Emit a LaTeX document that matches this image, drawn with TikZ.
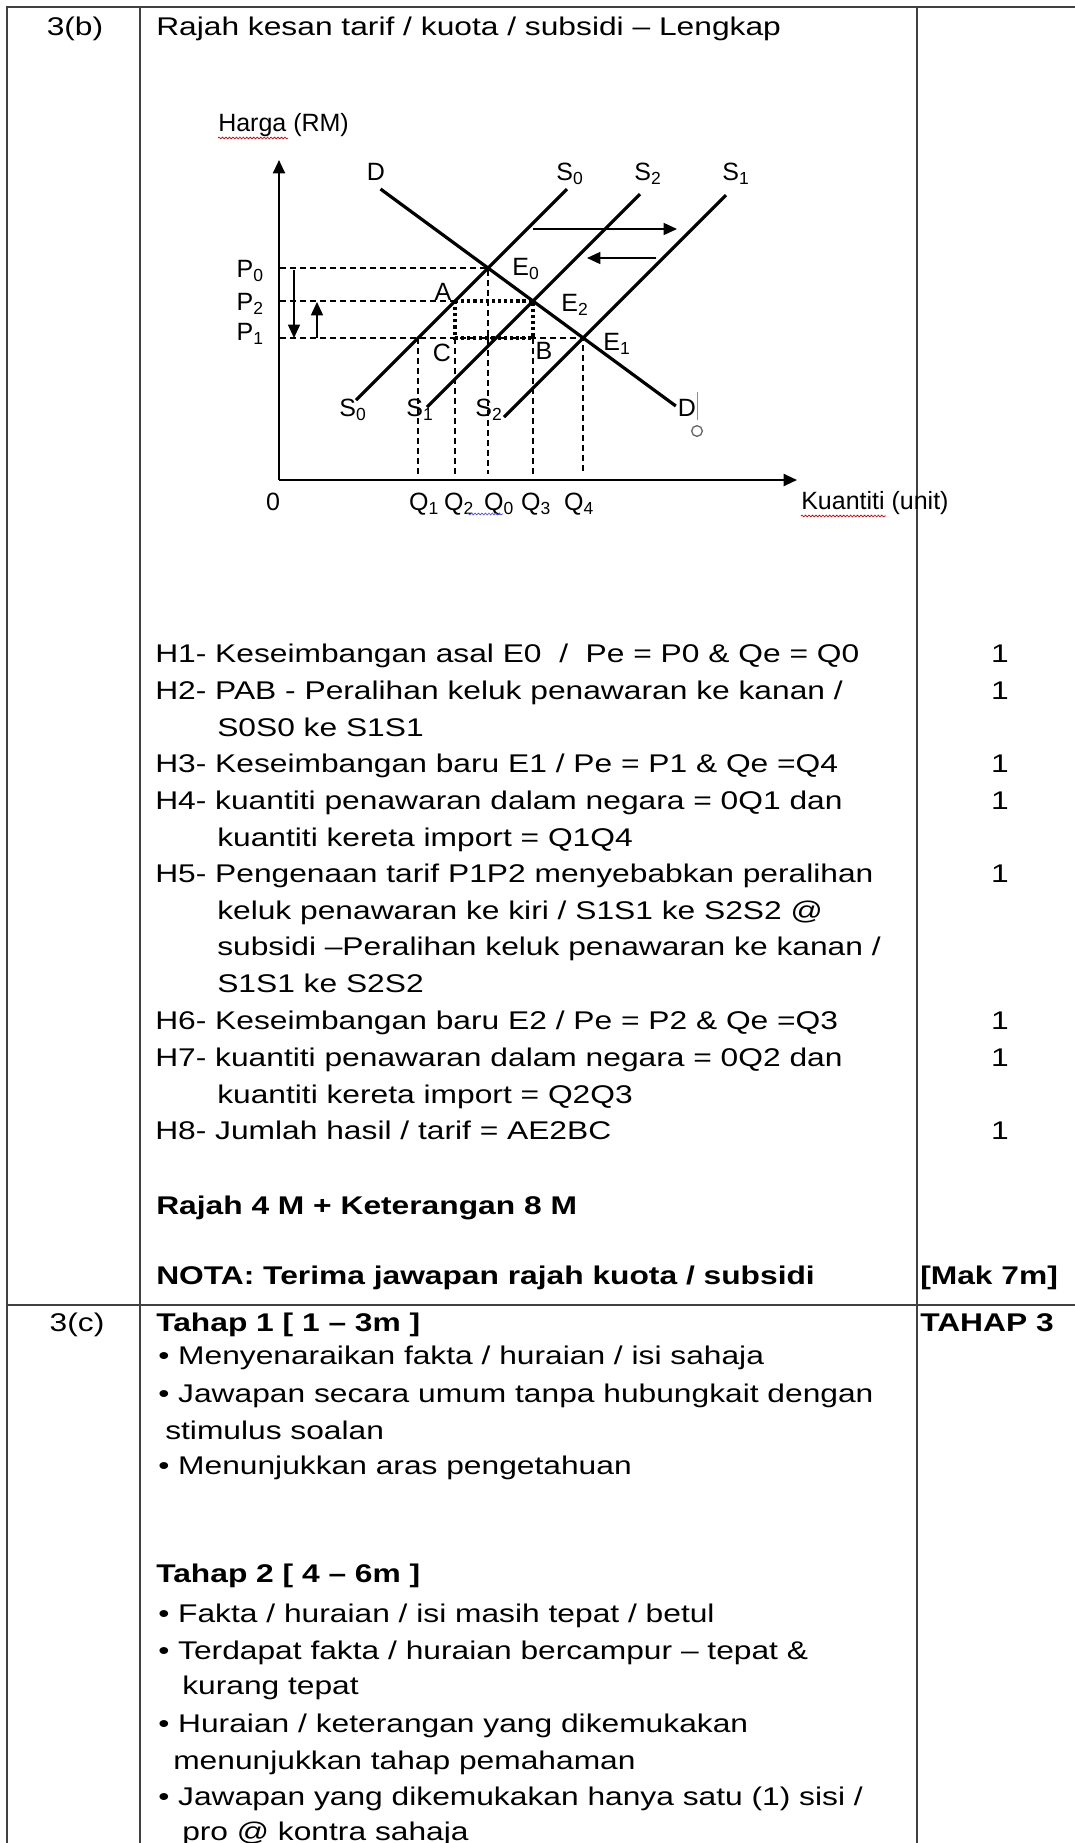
\documentclass[tikz,border=0pt]{standalone}
\usepackage{fontspec}
\setmainfont[FakeStretch=1.24]{Liberation Sans}
\newfontfamily\grafont{Liberation Sans}
\usetikzlibrary{arrows.meta,decorations.pathmorphing}
\newcommand{\sbs}[1]{\textsubscript{#1}}

\begin{document}
\begin{tikzpicture}[x=0.75pt,y=-0.75pt,
    txt/.style={anchor=base west,inner sep=0pt,font=\fontsize{19.2}{23}\selectfont},
    bld/.style={anchor=base west,inner sep=0pt,font=\fontsize{19.2}{23}\selectfont\bfseries},
    markno/.style={anchor=base,inner sep=0pt,font=\fontsize{19.2}{23}\selectfont},
    lbl/.style={inner sep=0pt,font=\grafont\fontsize{18.75}{20}\selectfont},
    curve/.style={line width=2.4pt},
    guide/.style={line width=0.9pt,dash pattern=on 4.5pt off 3pt},
    box/.style={line width=2.8pt,dash pattern=on 2.4pt off 2.2pt},
    rule/.style={line width=1.3pt,draw=black!75},
    tip/.style={-{Triangle[length=10pt,width=9pt]}},
    squig/.style={line width=0.5pt,decorate,decoration={snake,amplitude=0.7pt,segment length=2.6pt}}]
  \useasboundingbox (0,0) rectangle (1075,1843);

  \draw[rule] (7,1843) -- (7,7) -- (1075,7);
  \draw[rule] (140,7) -- (140,1843);
  \draw[rule] (917,7) -- (917,1843);
  \draw[rule] (7,1305) -- (1075,1305);

  \node[markno] (n3b) at (75,35) {3(b)};
  \node[txt] (title) at (156,35) {Rajah kesan tarif / kuota / subsidi – Lengkap};

  \coordinate (O) at (279,480);
  \coordinate (Ytop) at (279,160);
  \coordinate (Xend) at (797,480);
  \coordinate (D1) at (380.5,189);
  \coordinate (D2) at (675.8,406);
  \coordinate (S0a) at (356,400);
  \coordinate (S0b) at (567,189);
  \coordinate (S2a) at (427,407);
  \coordinate (S2b) at (640,194);
  \coordinate (S1a) at (504,417);
  \coordinate (S1b) at (726,195);
  \coordinate (E0) at (488,268);
  \coordinate (E2) at (533,301);
  \coordinate (E1) at (583,338);
  \coordinate (A) at (455,301);
  \coordinate (C) at (455,338);
  \coordinate (B) at (533,338);
  \coordinate (F) at (418,338);
  \coordinate (P0y) at (280,268);
  \coordinate (P2y) at (280,301);
  \coordinate (P1y) at (280,338);
  \coordinate (Q1x) at (418,474);
  \coordinate (Q2x) at (455,474);
  \coordinate (Q0x) at (488,474);
  \coordinate (Q3x) at (533,474);
  \coordinate (Q4x) at (583,474);

  \draw[guide] (P0y) -- (E0) -- (Q0x);
  \draw[guide] (P2y) -- (A);
  \draw[guide] (P1y) -- (E1) -- (Q4x);
  \draw[guide] (F) -- (Q1x);
  \draw[guide] (C) -- (Q2x);
  \draw[guide] (B) -- (Q3x);
  \draw[box] (A) -- (E2) -- (B) -- (C) -- cycle;

  \draw[line width=1.5pt,tip] (O) -- (Ytop);
  \draw[line width=1.5pt,tip] (O) -- (Xend);
  \draw[curve] (D1) -- (D2);
  \draw[curve] (S0a) -- (S0b);
  \draw[curve] (S2a) -- (S2b);
  \draw[curve] (S1a) -- (S1b);

  \coordinate (dn1) at (294,270);
  \coordinate (dn2) at (294,338);
  \coordinate (up1) at (317,338);
  \coordinate (up2) at (317,302);
  \coordinate (rt1) at (533,229);
  \coordinate (rt2) at (677,229);
  \coordinate (lt1) at (656,258);
  \coordinate (lt2) at (587,258);
  \draw[line width=1.1pt,tip] (dn1) -- (dn2);
  \draw[line width=1.1pt,tip] (up1) -- (up2);
  \draw[line width=1.1pt,tip] (rt1) -- (rt2);
  \draw[line width=1.1pt,tip] (lt1) -- (lt2);

  \node[lbl,anchor=west] (harga) at (218,125) {Harga (RM)};
  \node[lbl] (Dtop) at (376,172) {D};
  \node[lbl] (S0top) at (570,174) {S\sbs{0}};
  \node[lbl] (S2top) at (648,174) {S\sbs{2}};
  \node[lbl] (S1top) at (736,174) {S\sbs{1}};
  \node[lbl,anchor=east] (P0) at (264,271) {P\sbs{0}};
  \node[lbl,anchor=east] (P2) at (264,304) {P\sbs{2}};
  \node[lbl,anchor=east] (P1) at (264,334) {P\sbs{1}};
  \node[lbl] (lE0) at (526,269) {E\sbs{0}};
  \node[lbl] (lE2) at (575,305) {E\sbs{2}};
  \node[lbl] (lE1) at (617,344) {E\sbs{1}};
  \node[lbl] (lA) at (443,292) {A};
  \node[lbl] (lC) at (442,353) {C};
  \node[lbl] (lB) at (544,351) {B};
  \node[lbl] (S0bot) at (353,410) {S\sbs{0}};
  \node[lbl] (S1bot) at (420,410) {S\sbs{1}};
  \node[lbl] (S2bot) at (489,410) {S\sbs{2}};
  \node[lbl] (Dbot) at (687,408) {D};
  \node[lbl] (zero) at (273,502) {0};
  \node[lbl] (Q1) at (424,504) {Q\sbs{1}};
  \node[lbl] (Q2) at (459,504) {Q\sbs{2}};
  \node[lbl] (Q0) at (499,504) {Q\sbs{0}};
  \node[lbl] (Q3) at (536,504) {Q\sbs{3}};
  \node[lbl] (Q4) at (579,504) {Q\sbs{4}};
  \node[lbl,anchor=west] (kuantiti) at (801,503) {Kuantiti (unit)};

  \draw[red!80!black,squig] (218,138) -- (288,138);
  \draw[red!80!black,squig] (801,516) -- (886,516);
  \draw[blue!70,squig] (467,514) -- (503,514);
  \draw[black!45,line width=0.6pt] (697,392) -- (697,420);
  \draw[black!60,line width=1pt] (697,431) circle [radius=4pt];

  \node[txt] (h1) at (155,662) {H1- Keseimbangan asal E0\ \ /\ \ Pe = P0 \& Qe = Q0};
  \node[txt] (h2) at (155,699) {H2- PAB - Peralihan keluk penawaran ke kanan /};
  \node[txt] (h2b) at (217,736) {S0S0 ke S1S1};
  \node[txt] (h3) at (155,772) {H3- Keseimbangan baru E1 / Pe = P1 \& Qe =Q4};
  \node[txt] (h4) at (155,809) {H4- kuantiti penawaran dalam negara = 0Q1 dan};
  \node[txt] (h4b) at (217,846) {kuantiti kereta import = Q1Q4};
  \node[txt] (h5) at (155,882) {H5- Pengenaan tarif P1P2 menyebabkan peralihan};
  \node[txt] (h5b) at (217,919) {keluk penawaran ke kiri / S1S1 ke S2S2 @};
  \node[txt] (h5c) at (217,955) {subsidi –Peralihan keluk penawaran ke kanan /};
  \node[txt] (h5d) at (217,992) {S1S1 ke S2S2};
  \node[txt] (h6) at (155,1029) {H6- Keseimbangan baru E2 / Pe = P2 \& Qe =Q3};
  \node[txt] (h7) at (155,1066) {H7- kuantiti penawaran dalam negara = 0Q2 dan};
  \node[txt] (h7b) at (217,1103) {kuantiti kereta import = Q2Q3};
  \node[txt] (h8) at (155,1139) {H8- Jumlah hasil / tarif = AE2BC};
  \node[bld] (rajah) at (156,1214) {Rajah 4 M + Keterangan 8 M};
  \node[bld] (nota) at (156,1284) {NOTA: Terima jawapan rajah kuota / subsidi};

  \foreach \yy/\nm in {662/m1,699/m2,772/m3,809/m4,882/m5,1029/m6,1066/m7,1139/m8}
    \node[markno] (\nm) at (1000,\yy) {1};
  \node[bld] (mak) at (920,1284) {[Mak 7m]};

  \node[markno] (n3c) at (77,1331) {3(c)};
  \node[bld] (tahap1) at (156,1331) {Tahap 1 [ 1 – 3m ]};
  \node[bld] (tahap3) at (920,1331) {TAHAP 3};
  \node[txt] (t1a) at (158,1364) {• Menyenaraikan fakta / huraian / isi sahaja};
  \node[txt] (t1b) at (158,1402) {• Jawapan secara umum tanpa hubungkait dengan};
  \node[txt] (t1c) at (165,1439) {stimulus soalan};
  \node[txt] (t1d) at (158,1474) {• Menunjukkan aras pengetahuan};
  \node[bld] (tahap2) at (156,1582) {Tahap 2 [ 4 – 6m ]};
  \node[txt] (t2a) at (158,1622) {• Fakta / huraian / isi masih tepat / betul};
  \node[txt] (t2b) at (158,1659) {• Terdapat fakta / huraian bercampur – tepat \&};
  \node[txt] (t2c) at (182,1694) {kurang tepat};
  \node[txt] (t2d) at (158,1732) {• Huraian / keterangan yang dikemukakan};
  \node[txt] (t2e) at (173,1769) {menunjukkan tahap pemahaman};
  \node[txt] (t2f) at (158,1805) {• Jawapan yang dikemukakan hanya satu (1) sisi /};
  \node[txt] (t2g) at (182,1840) {pro @ kontra sahaja};
\end{tikzpicture}
\end{document}
